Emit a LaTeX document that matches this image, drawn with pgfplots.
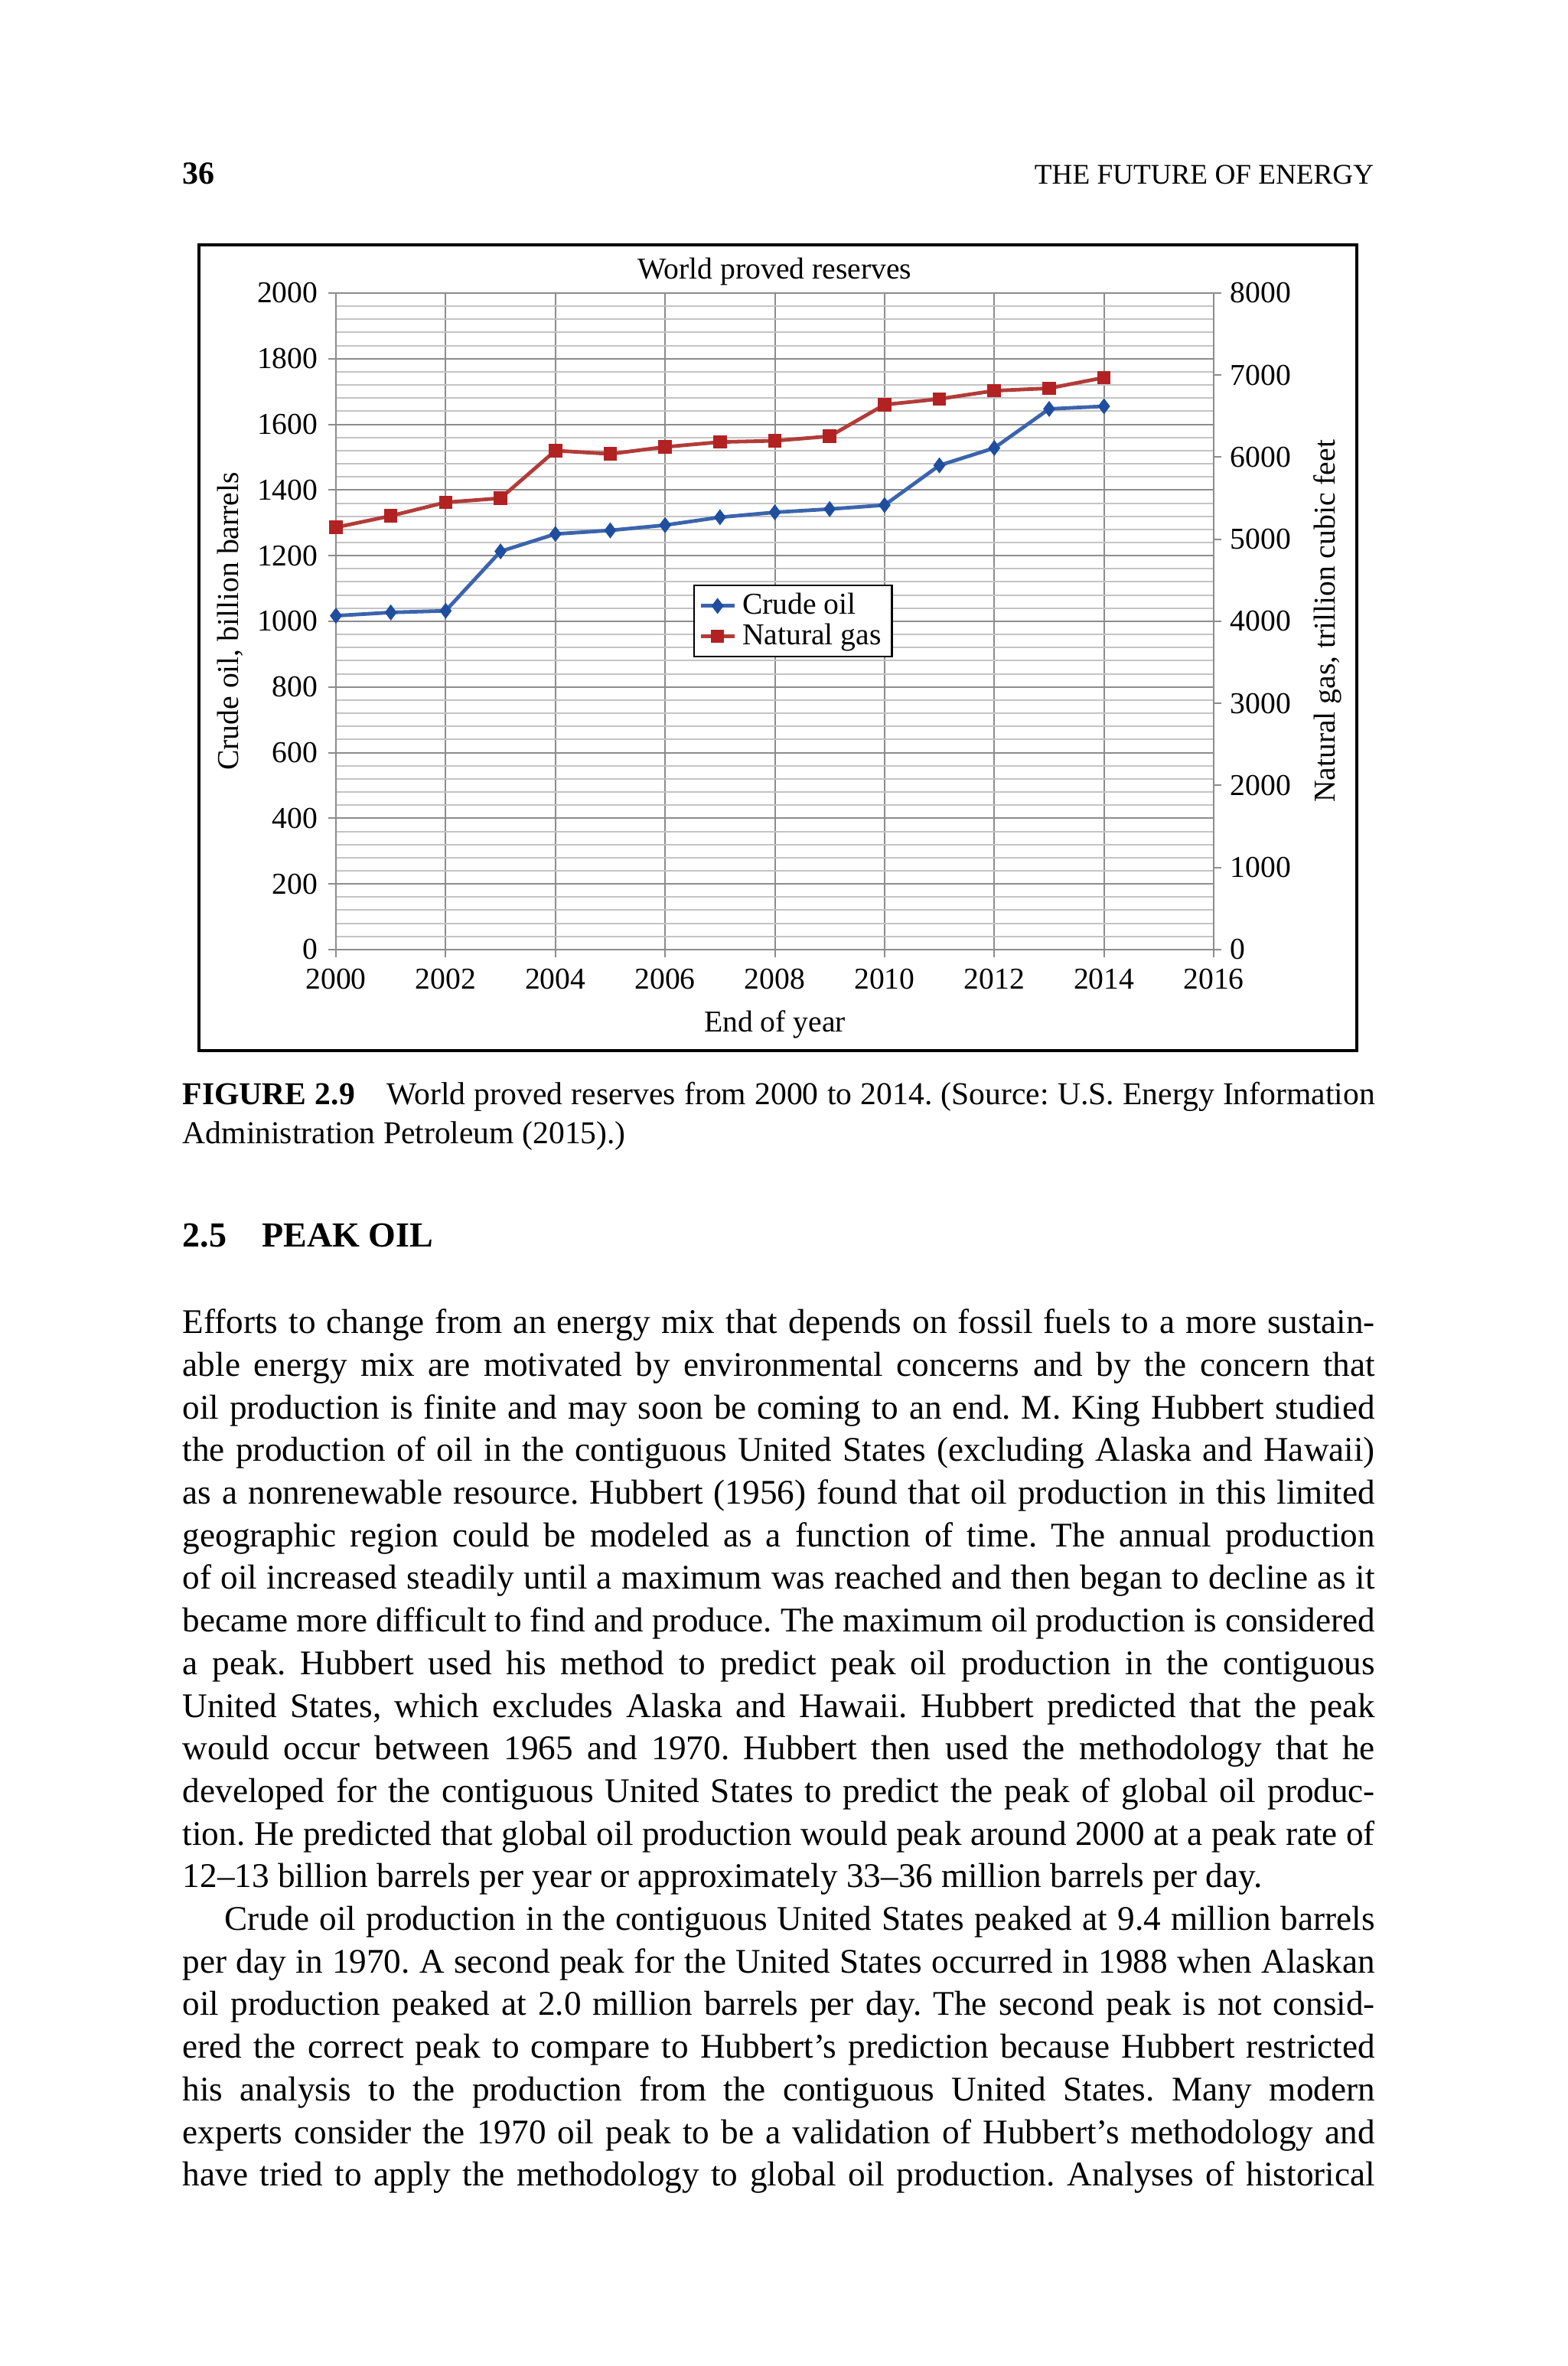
\documentclass[border=0pt]{standalone}
\usepackage{fontspec}
\setmainfont{Liberation Serif}
\usepackage{pgfplots}
\pgfplotsset{compat=1.18}
\definecolor{oilblue}{HTML}{3B64AD}
\definecolor{oilmark}{HTML}{1F4E9E}
\definecolor{gasred}{HTML}{B23C38}
\definecolor{gasmark}{HTML}{B22222}
\definecolor{gridmaj}{HTML}{8C8C8C}
\definecolor{gridmin}{HTML}{C4C4C4}
\newcommand\cf{\fontsize{9.9pt}{11pt}\selectfont}
\newdimen\tw \tw=389.5pt
\newcommand\JL[1]{\hbox to \tw{#1}}
\newcommand\LL[1]{\hbox to \tw{#1\hfil}}
\newcommand\IL[1]{\hbox to \tw{\hskip13.75pt #1}}
\pgfplotsset{
  /pgf/number format/.cd, 1000 sep={}, assume math mode=true,
  /pgfplots/.cd,
  oil/.style={color=oilblue, line width=1.2pt, mark=diamond*, mark size=2.3pt,
    mark options={fill=oilmark, draw=oilmark, line width=0.4pt}},
  gas/.style={color=gasred, line width=1.2pt, mark=square*, mark size=2pt,
    mark options={fill=gasmark, draw=gasmark, line width=0.4pt}},
}
\begin{document}
\begin{tikzpicture}
\useasboundingbox (0,0) rectangle (512pt,773pt);
\fill[white] (0,0) rectangle (512pt,773pt);
% running head
\node[anchor=base west, inner sep=0] at (59.5pt,712.75pt) {\fontsize{10.5pt}{12pt}\selectfont\bfseries 36};
\node[anchor=base east, inner sep=0] at (449pt,712.75pt) {\fontsize{9.3pt}{11pt}\selectfont THE FUTURE OF ENERGY};
% frame of the figure
\draw[line width=0.9pt] (65pt,429.75pt) rectangle (443.25pt,693pt);
% left axis: crude oil
\begin{axis}[
  at={(109.75pt,462.75pt)}, anchor=south west, scale only axis,
  width=286.75pt, height=214.5pt,
  xmin=2000, xmax=2016, ymin=0, ymax=2000,
  xtick={2000,2002,...,2016}, ytick={0,200,...,2000},
  minor x tick num=4, minor y tick num=4,
  grid=both,
  major grid style={draw=gridmaj, line width=0.5pt},
  minor grid style={draw=gridmin, line width=0.5pt},
  axis x line*=bottom, axis y line*=left,
  axis line style={draw=gridmaj, line width=0.6pt, -},
  tick align=outside, major tick length=2.5pt, minor tick length=0pt,
  tick style={draw=gridmaj, line width=0.5pt},
  ticklabel style={font=\cf},
  xticklabel style={anchor=north, inner sep=0pt, yshift=-3.5pt},
  yticklabel style={anchor=east, inner sep=0pt, xshift=-3.25pt},
  title={World proved reserves},
  every axis title shift=0pt,
  title style={font=\cf, at={(axis description cs:0.5,1.0221)}, anchor=base},
  xlabel={End of year},
  xlabel style={font=\cf, at={(axis description cs:0.5,-0.1259)}, anchor=base},
  ylabel={Crude oil, billion barrels},
  ylabel style={font=\cf, at={(axis description cs:-0.1112,0.5)}, anchor=base},
]
\addplot[oil] coordinates {
  (2000,1017) (2001,1027) (2002,1032) (2003,1213) (2004,1266) (2005,1277)
  (2006,1293) (2007,1317) (2008,1332) (2009,1342) (2010,1354) (2011,1475)
  (2012,1528) (2013,1647) (2014,1655)};
\end{axis}
% right axis: natural gas
\begin{axis}[
  at={(109.75pt,462.75pt)}, anchor=south west, scale only axis,
  width=286.75pt, height=214.5pt,
  xmin=2000, xmax=2016, ymin=0, ymax=8000,
  axis x line=none, axis y line*=right,
  ytick={0,1000,...,8000},
  axis line style={draw=gridmaj, line width=0.6pt, -},
  tick align=outside, major tick length=2.5pt, minor tick length=0pt,
  tick style={draw=gridmaj, line width=0.5pt},
  yticklabel style={font=\cf, anchor=west, inner sep=0pt, xshift=2.75pt},
  ylabel={Natural gas, trillion cubic feet},
  ylabel style={font=\cf, at={(axis description cs:1.1386,0.5)}, anchor=base},
  legend style={at={(0.4072,0.556)}, anchor=north west, font=\cf,
    draw=black, line width=0.6pt, inner xsep=1.5pt, inner ysep=0.5pt,
    row sep=-2.5pt, cells={anchor=west}},
  legend image code/.code={\draw[mark repeat=2, mark phase=2, #1]
    plot coordinates {(0pt,0pt) (5.5pt,0pt) (11pt,0pt)};},
]
\addlegendimage{oil}
\addlegendentry{Crude oil}
\addplot[gas] coordinates {
  (2000,5145) (2001,5285) (2002,5450) (2003,5500) (2004,6080) (2005,6040)
  (2006,6125) (2007,6185) (2008,6200) (2009,6255) (2010,6640) (2011,6710)
  (2012,6810) (2013,6840) (2014,6970)};
\addlegendentry{Natural gas}
\end{axis}
% caption
\node[anchor=base west, inner sep=0] at (59.5pt,412.2pt) {\fontsize{10.4pt}{12.925pt}\selectfont\frenchspacing
  \spaceskip=0.25em plus 0.6em minus 0.1em
  \vtop{\baselineskip=12.925pt
  \JL{\textbf{FIGURE 2.9}\quad World proved reserves from 2000 to 2014. (Source: U.S. Energy Information}
  \LL{Administration Petroleum (2015).)}}};
% section heading
\node[anchor=base west, inner sep=0] at (59.5pt,365.5pt) {\fontsize{11.5pt}{14pt}\selectfont\bfseries 2.5\quad PEAK OIL};
% body text
\node[anchor=base west, inner sep=0] at (59.5pt,337.3pt) {\fontsize{11.3pt}{13.925pt}\selectfont\frenchspacing
  \spaceskip=0.25em plus 0.6em minus 0.1em
  \vtop{\baselineskip=13.925pt
  \JL{Efforts to change from an energy mix that depends on fossil fuels to a more sustain-}
  \JL{able energy mix are motivated by environmental concerns and by the concern that}
  \JL{oil production is finite and may soon be coming to an end. M. King Hubbert studied}
  \JL{the production of oil in the contiguous United States (excluding Alaska and Hawaii)}
  \JL{as a nonrenewable resource. Hubbert (1956) found that oil production in this limited}
  \JL{geographic region could be modeled as a function of time. The annual production}
  \JL{of oil increased steadily until a maximum was reached and then began to decline as it}
  \JL{became more difficult to find and produce. The maximum oil production is considered}
  \JL{a peak. Hubbert used his method to predict peak oil production in the contiguous}
  \JL{United States, which excludes Alaska and Hawaii. Hubbert predicted that the peak}
  \JL{would occur between 1965 and 1970. Hubbert then used the methodology that he}
  \JL{developed for the contiguous United States to predict the peak of global oil produc-}
  \JL{tion. He predicted that global oil production would peak around 2000 at a peak rate of}
  \LL{12--13 billion barrels per year or approximately 33--36 million barrels per day.}
  \IL{Crude oil production in the contiguous United States peaked at 9.4 million barrels}
  \JL{per day in 1970. A second peak for the United States occurred in 1988 when Alaskan}
  \JL{oil production peaked at 2.0 million barrels per day. The second peak is not consid-}
  \JL{ered the correct peak to compare to Hubbert's prediction because Hubbert restricted}
  \JL{his analysis to the production from the contiguous United States. Many modern}
  \JL{experts consider the 1970 oil peak to be a validation of Hubbert's methodology and}
  \JL{have tried to apply the methodology to global oil production. Analyses of historical}
  }};
\end{tikzpicture}
\end{document}
